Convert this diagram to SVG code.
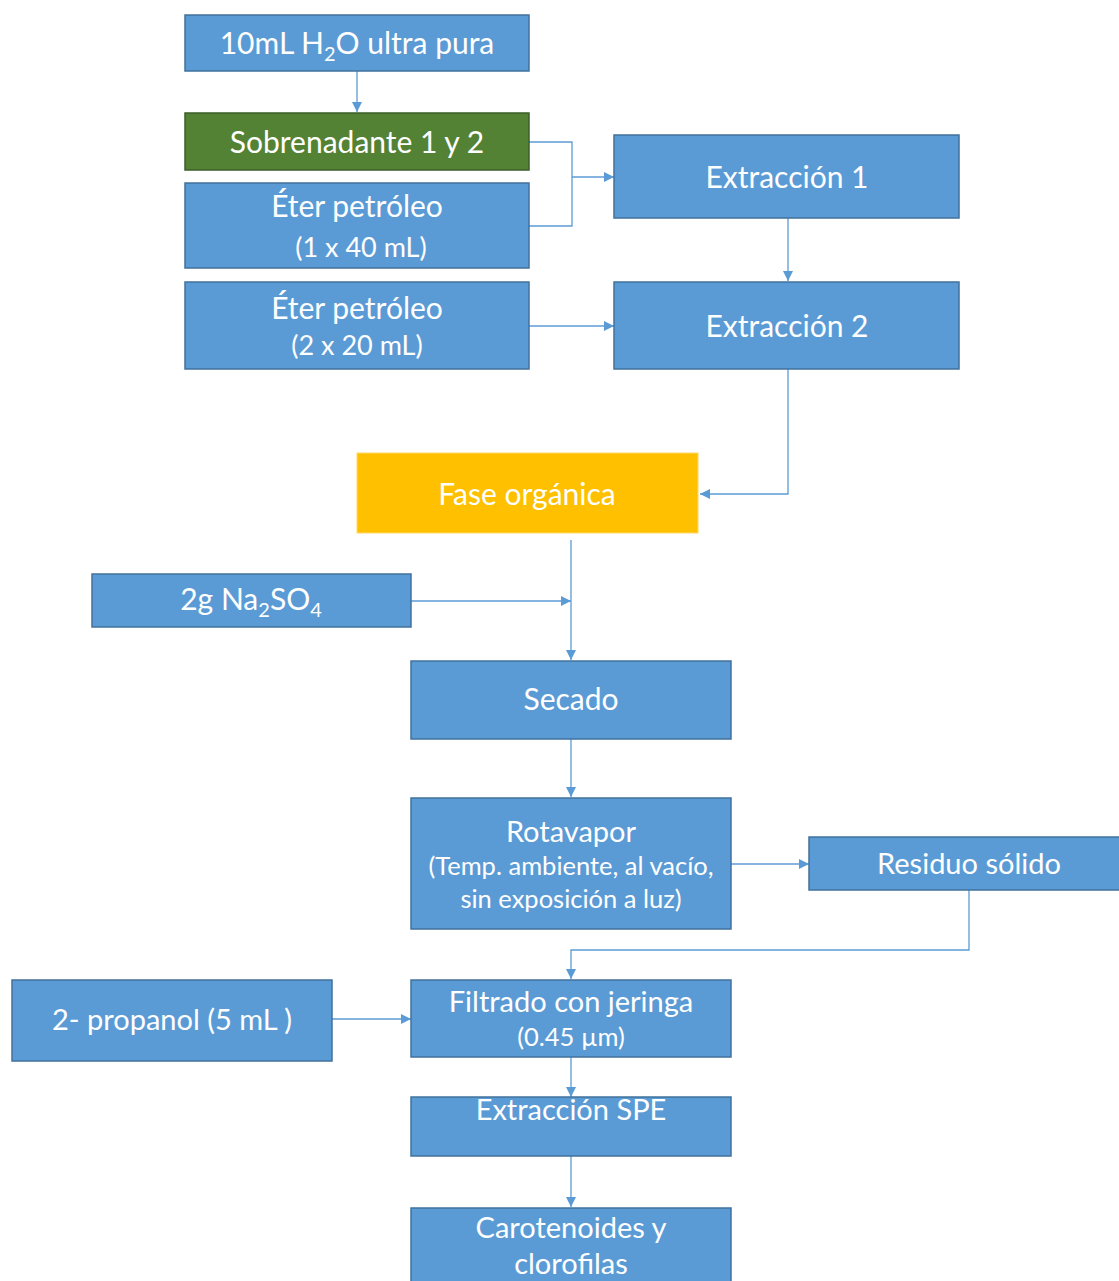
<svg xmlns="http://www.w3.org/2000/svg" width="1119" height="1281" viewBox="0 0 1119 1281">
<defs>
<marker id="ah" viewBox="0 0 10 10" refX="10" refY="5" markerWidth="10" markerHeight="10" markerUnits="userSpaceOnUse" orient="auto">
<path d="M0,0 L10,5 L0,10 z" fill="#5B9BD5"/>
</marker>
<style>
.b{fill:#5B9BD5;stroke:#41719C;stroke-width:1.5}
.g{fill:#548235;stroke:#3B5E2B;stroke-width:1.5}
.y{fill:#FFC000;stroke:#FFD966;stroke-width:1}
text{font-family:Lato,"Open Sans","Liberation Sans",sans-serif;fill:#fff;text-anchor:middle}
.l{font-size:30px}
.k{font-size:29px}
.m{font-size:27px}
.s{font-size:25.5px}
.c{fill:none;stroke:#5B9BD5;stroke-width:1.3}
</style>
</defs>
<rect width="1119" height="1281" fill="#fff"/>
<g id="connectors">
<path class="c" d="M357,71 V112" marker-end="url(#ah)"/>
<path class="c" d="M529,142 H572 V226 H529"/>
<path class="c" d="M572,177 H614" marker-end="url(#ah)"/>
<path class="c" d="M788,218 V281" marker-end="url(#ah)"/>
<path class="c" d="M529,326 H614" marker-end="url(#ah)"/>
<path class="c" d="M788,369 V494 H700" marker-end="url(#ah)"/>
<path class="c" d="M571,540 V660" marker-end="url(#ah)"/>
<path class="c" d="M411,601 H571" marker-end="url(#ah)"/>
<path class="c" d="M571,739 V797" marker-end="url(#ah)"/>
<path class="c" d="M731,864 H809" marker-end="url(#ah)"/>
<path class="c" d="M969,890 V950 H571 V979" marker-end="url(#ah)"/>
<path class="c" d="M332,1019 H411" marker-end="url(#ah)"/>
<path class="c" d="M571,1057 V1097" marker-end="url(#ah)"/>
<path class="c" d="M571,1156 V1207" marker-end="url(#ah)"/>
</g>
<g id="n-h2o"><rect class="b" x="185" y="15" width="344" height="56"/><text class="l" x="357" y="54">10mL H<tspan font-size="20" dy="7">2</tspan><tspan dy="-7">O ultra pura</tspan></text></g>
<g id="n-sobrenadante"><rect class="g" x="185" y="113" width="344" height="57"/><text class="l" x="357" y="153">Sobrenadante 1 y 2</text></g>
<g id="n-eter1"><rect class="b" x="185" y="183" width="344" height="85"/><text class="l" x="357" y="217">Éter petróleo</text><text class="m" x="361" y="257">(1 x 40 mL)</text></g>
<g id="n-eter2"><rect class="b" x="185" y="282" width="344" height="87"/><text class="l" x="357" y="319">Éter petróleo</text><text class="m" x="357" y="355">(2 x 20 mL)</text></g>
<g id="n-ext1"><rect class="b" x="614" y="135" width="345" height="83"/><text class="l" x="787" y="188">Extracción 1</text></g>
<g id="n-ext2"><rect class="b" x="614" y="282" width="345" height="87"/><text class="l" x="787" y="337">Extracción 2</text></g>
<g id="n-fase"><rect class="y" x="357" y="453" width="341" height="80"/><text class="l" x="527" y="505">Fase orgánica</text></g>
<g id="n-na2so4"><rect class="b" x="92" y="574" width="319" height="53"/><text class="l" x="251" y="610">2g Na<tspan font-size="20" dy="7">2</tspan><tspan dy="-7">SO</tspan><tspan font-size="20" dy="7">4</tspan></text></g>
<g id="n-secado"><rect class="b" x="411" y="661" width="320" height="78"/><text class="l" x="571" y="710">Secado</text></g>
<g id="n-rotavapor"><rect class="b" x="411" y="798" width="320" height="131"/><text class="k" x="571" y="842">Rotavapor</text><text class="s" x="571" y="875">(Temp. ambiente, al vacío,</text><text class="s" x="571" y="908">sin exposición a luz)</text></g>
<g id="n-residuo"><rect class="b" x="809" y="837" width="318" height="53"/><text class="k" x="969" y="874">Residuo sólido</text></g>
<g id="n-propanol"><rect class="b" x="12" y="980" width="320" height="81"/><text class="k" x="172" y="1030">2- propanol (5 mL )</text></g>
<g id="n-filtrado"><rect class="b" x="411" y="980" width="320" height="77"/><text class="k" x="571" y="1012">Filtrado con jeringa</text><text class="s" x="571" y="1046">(0.45 µm)</text></g>
<g id="n-spe"><rect class="b" x="411" y="1097" width="320" height="59"/><text class="k" x="571" y="1120">Extracción SPE</text></g>
<g id="n-carotenoides"><rect class="b" x="411" y="1208" width="320" height="80"/><text class="k" x="571" y="1238">Carotenoides y</text><text class="k" x="571" y="1274">clorofilas</text></g>
</svg>
